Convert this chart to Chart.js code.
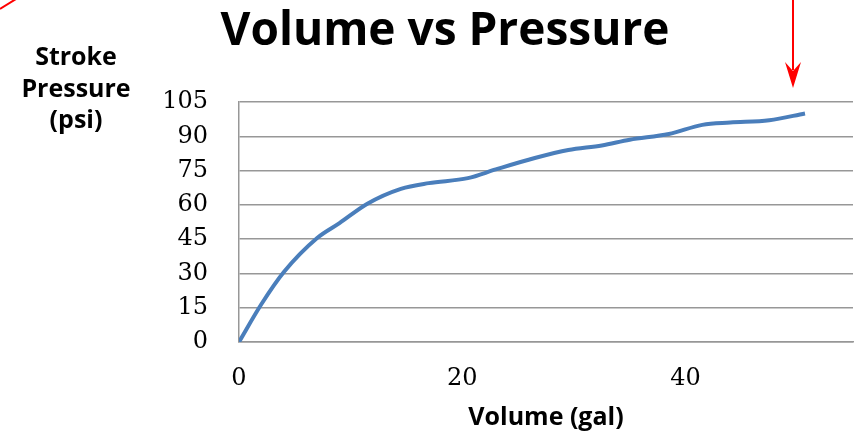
<!DOCTYPE html>
<html>
<head>
<meta charset="utf-8">
<title>Volume vs Pressure</title>
<script src="https://cdn.jsdelivr.net/npm/chart.js@4.4.1/dist/chart.umd.min.js"></script>
<style>
  html, body { margin: 0; padding: 0; background: #fff; overflow: hidden; }
  #chart { display: block; }
</style>
</head>
<body>
<canvas id="chart" width="857" height="433"></canvas>
<script>
// values
const volumeGal = [0, 2, 4, 7, 9, 11.5, 14.5, 17, 20.5, 23, 26.5, 29.5, 32.5, 35, 38.5, 41.5, 44, 47.5, 50.7];
const pressurePsi = [0, 16.5, 30.5, 45.5, 52, 60.5, 67, 69.5, 71.7, 75.5, 80.5, 84, 86, 88.5, 91, 95, 96, 97, 100];
const yTicks = [0, 15, 30, 45, 60, 75, 90, 105];
const xTicks = [0, 20, 40];

const chartTitle = "Volume vs Pressure";
const yTitle = ["Stroke", "Pressure", "(psi)"];
const xTitle = "Volume (gal)";

const points = volumeGal.map((v, i) => ({ x: v, y: pressurePsi[i] }));

// titles + the red marks from the screenshot
const extras = {
  id: "extras",
  afterDraw(chart) {
    const ctx = chart.ctx;
    ctx.save();
    ctx.fillStyle = "#000";
    ctx.textBaseline = "alphabetic";
    ctx.textAlign = "center";
    ctx.font = "bold 46px 'Open Sans'";
    ctx.fillText(chartTitle, 445, 45);

    ctx.font = "bold 25px 'Open Sans'";
    const baselines = [65, 97, 128];
    yTitle.forEach((t, i) => ctx.fillText(t, 76, baselines[i]));

    // red line, top left
    ctx.strokeStyle = "#ff0000";
    ctx.lineWidth = 2;
    ctx.beginPath();
    ctx.moveTo(0, 9);
    ctx.lineTo(16, -1);
    ctx.stroke();

    // red arrow, top right
    ctx.beginPath();
    ctx.moveTo(793, 0);
    ctx.lineTo(793, 70);
    ctx.stroke();
    ctx.fillStyle = "#ff0000";
    ctx.beginPath();
    ctx.moveTo(793, 88);
    ctx.lineTo(785, 62);
    ctx.lineTo(793, 71);
    ctx.lineTo(801, 62);
    ctx.closePath();
    ctx.fill();
    ctx.restore();
  }
};

const gridGrey = "#979797";

new Chart(document.getElementById("chart"), {
  type: "line",
  data: {
    datasets: [{
      data: points,
      borderColor: "#4a7ebb",
      borderWidth: 4,
      pointRadius: 0,
      fill: false,
      cubicInterpolationMode: "monotone"
    }]
  },
  options: {
    responsive: false,
    animation: false,
    devicePixelRatio: 1,
    layout: { padding: { top: 102, right: 4, bottom: 0, left: 0 } },
    plugins: { legend: { display: false }, tooltip: { enabled: false }, title: { display: false } },
    scales: {
      x: {
        type: "linear",
        min: 0,
        max: 55,
        afterFit: (s) => { s.height = 91; },
        afterBuildTicks: (s) => { s.ticks = xTicks.map((v) => ({ value: v })); },
        grid: { display: false, drawTicks: false },
        border: { display: true, color: gridGrey, width: 1.5 },
        ticks: {
          padding: 22,
          maxRotation: 0,
          color: "#000",
          font: { family: "'DejaVu Serif'", size: 24 }
        },
        title: {
          display: true,
          text: xTitle,
          color: "#000",
          padding: 0,
          font: { family: "'Open Sans'", size: 25, weight: "bold" }
        }
      },
      y: {
        min: 0,
        max: 105,
        afterFit: (s) => { s.width = 239; },
        afterBuildTicks: (s) => { s.ticks = yTicks.map((v) => ({ value: v })); },
        grid: { color: gridGrey, lineWidth: 1.5, drawTicks: false },
        border: { display: true, color: gridGrey, width: 1.5 },
        ticks: {
          padding: 31,
          color: "#000",
          font: { family: "'DejaVu Serif'", size: 24 }
        }
      }
    }
  },
  plugins: [extras]
});
</script>
</body>
</html>
